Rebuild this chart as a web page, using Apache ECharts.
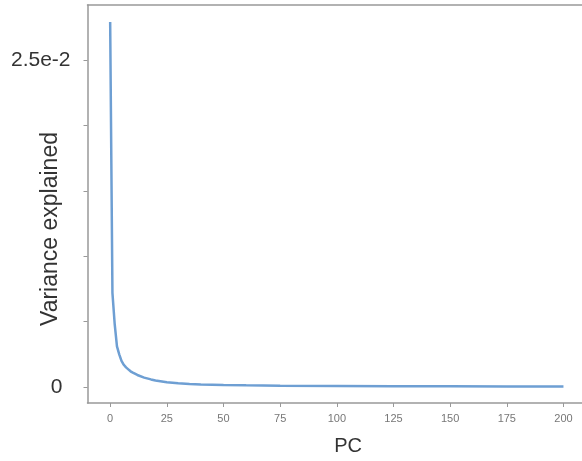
<!DOCTYPE html>
<html><head><meta charset="utf-8">
<script src="https://cdn.jsdelivr.net/npm/echarts@6/dist/echarts.min.js"></script>
<style>html,body{margin:0;padding:0;background:#fff}#c{width:582px;height:461px}</style>
</head><body><div id="c"></div>
<script>
const pcs = [0,1,2,3,4,5,6,7,8,9,10,12,15,18,20,25,30,35,40,50,60,75,100,125,150,175,200];
const variance = [0.0279,0.0072,0.0048,0.0031,0.0025,0.0020,0.0017,0.0015,0.00135,0.0012,0.0011,0.00092,0.00072,0.00058,0.0005,0.00036,0.00028,0.00023,0.0002,0.00016,0.00013,0.0001,0.00008,0.00006,0.00005,0.00004,0.00003];
const xTicks = [0,25,50,75,100,125,150,175,200];
const yTicks = [0,0.005,0.01,0.015,0.02,0.025];
const yLabels = [0,0.025];
const yLabelText = {"0":"{z|0}","0.025":"2.5e-2"};

const chart = echarts.init(document.getElementById('c'));
const lineStyle = {color:'#999',width:1.5};
chart.setOption({
  animation:false,
  grid:{left:87.5,top:5,width:521.3,height:398,show:false,containLabel:false,outerBoundsMode:'none'},
  xAxis:[{type:'value',min:-10,max:220,position:'bottom',
    name:'PC',nameLocation:'middle',nameGap:33,nameMoveOverlap:false,
    nameTextStyle:{fontFamily:'Liberation Sans',fontSize:20,color:'#333'},
    axisLine:{show:true,onZero:false,lineStyle:lineStyle},
    axisTick:{show:true,length:4,lineStyle:{color:'#999'},customValues:xTicks},
    axisLabel:{customValues:xTicks,fontSize:11,color:'#777',margin:10,fontFamily:'Liberation Sans'},
    splitLine:{show:false}},
   {type:'value',min:-10,max:220,position:'top',
    axisLine:{show:true,onZero:false,lineStyle:lineStyle},
    axisTick:{show:false},axisLabel:{show:false},splitLine:{show:false}}],
  yAxis:{type:'value',min:-0.001223,max:0.029205,
    name:'Variance explained',nameLocation:'middle',nameGap:25,nameMoveOverlap:false,
    nameTextStyle:{fontFamily:'Liberation Sans',fontSize:23,color:'#333',padding:[0,50,0,0]},
    axisLine:{show:true,onZero:false,lineStyle:lineStyle},
    axisTick:{show:true,length:4,lineStyle:{color:'#999'},customValues:yTicks},
    axisLabel:{customValues:yLabels,fontSize:21,color:'#333',margin:17,fontFamily:'Liberation Sans',
      rich:{z:{fontSize:21,color:'#333',fontFamily:'Liberation Sans',padding:[0,8,0,0]}},
      formatter:v=>yLabelText[String(v)]!==undefined?yLabelText[String(v)]:String(v)},
    splitLine:{show:false}},
  series:[{type:'line',xAxisIndex:0,data:pcs.map((p,i)=>[p,variance[i]]),showSymbol:false,
    lineStyle:{color:'#6e9fd3',width:2.5},itemStyle:{color:'#6e9fd3'}}]
});
</script></body></html>
